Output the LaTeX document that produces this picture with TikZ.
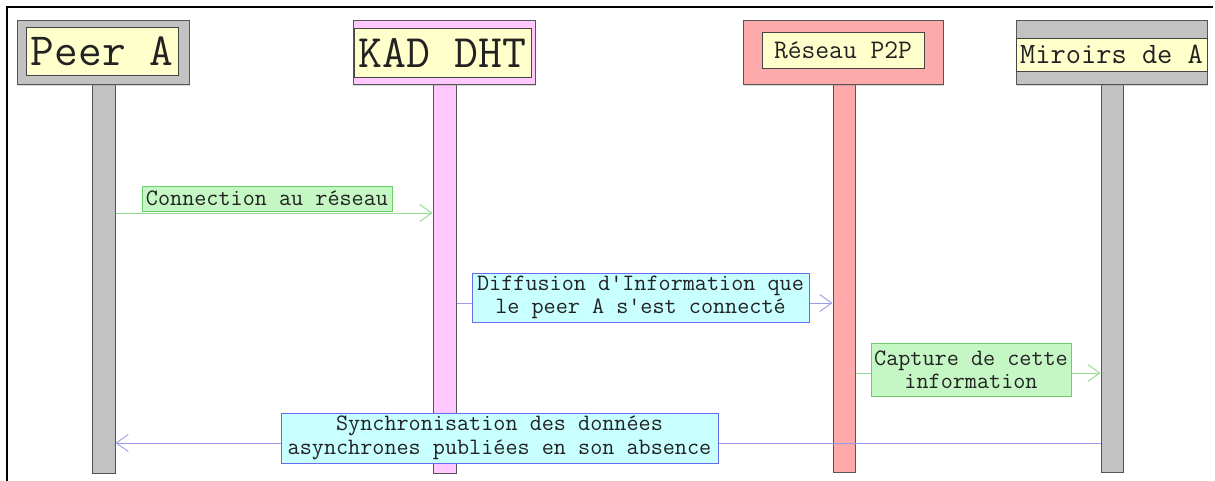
\documentclass[tikz,border=0pt]{standalone}
\usepackage{fontspec}
\usetikzlibrary{arrows.meta,shadows}

\definecolor{edgegray}{HTML}{555555}
\definecolor{textgray}{HTML}{222222}
\definecolor{actgray}{HTML}{C2C2C2}
\definecolor{actpink}{HTML}{FFC8FF}
\definecolor{actred}{HTML}{FFAAAA}
\definecolor{namefill}{HTML}{FFFFCC}
\definecolor{notegreen}{HTML}{C4F7C4}
\definecolor{notegreenedge}{HTML}{6ACF6A}
\definecolor{notecyan}{HTML}{C8FFFF}
\definecolor{notebluedge}{HTML}{6A6AEE}
\definecolor{linegreen}{HTML}{8FDC8F}
\definecolor{lineblue}{HTML}{9A9AEE}

\begin{document}
\begin{tikzpicture}[x=1pt,y=-1pt,
  header/.style={draw=edgegray, line width=1pt, inner sep=0pt,
    drop shadow={shadow xshift=1.2pt, shadow yshift=-1.2pt, opacity=0.3}},
  actorname/.style={draw=edgegray!80!black, line width=0.8pt, fill=namefill,
    inner sep=0pt, text=textgray, font=\ttfamily},
  lifeline/.style={draw=edgegray, line width=1pt, inner sep=0pt,
    minimum width=23pt, minimum height=388pt,
    drop shadow={shadow xshift=1.2pt, shadow yshift=-1.2pt, opacity=0.3}},
  msgfont/.style={font=\ttfamily\fontsize{23.5}{23.5}\selectfont, text=textgray, align=center, inner sep=0pt},
  greennote/.style={msgfont, fill=notegreen, draw=notegreenedge, line width=0.9pt},
  bluenote/.style={msgfont, fill=notecyan, draw=notebluedge, line width=0.9pt},
  greenmsg/.style={draw=linegreen, line width=0.9pt, -{Straight Barb[length=12pt,width=17pt]}},
  bluemsg/.style={draw=lineblue, line width=0.9pt, -{Straight Barb[length=12pt,width=17pt]}}
]
\useasboundingbox (0,0) rectangle (1215,481);

% screen frame
\draw[line width=2pt, black] (7,481) -- (7,7) -- (1213,7);

% lifelines
\node[lifeline, fill=actgray] (peerbar) at (103.5,279) {};
\node[lifeline, fill=actpink] (kadbar) at (444.5,279) {};
\node[lifeline, fill=actred, minimum width=22pt] (p2pbar) at (844,278) {};
\node[lifeline, fill=actgray, minimum width=22pt] (mirbar) at (1112,278) {};

% actor headers
\node[header, fill=actgray, minimum width=172pt, minimum height=64pt] (peerhead) at (103,53) {};
\node[actorname, minimum width=152pt, minimum height=48pt,
  font=\ttfamily\fontsize{46}{48}\selectfont] (peername) at (102,51) {Peer A};

\node[header, fill=actpink, minimum width=182pt, minimum height=64pt] (kadhead) at (444,53) {};
\node[actorname, minimum width=177pt, minimum height=49pt,
  font=\ttfamily\fontsize{46.5}{48}\selectfont] (kadname) at (442.5,52.5) {KAD DHT};

\node[header, fill=actred, minimum width=200pt, minimum height=64pt] (p2phead) at (843,53) {};
\node[actorname, minimum width=162pt, minimum height=36pt,
  font=\ttfamily\fontsize{26.8}{28}\selectfont] (p2pname) at (843,50) {Réseau P2P};

\node[header, fill=actgray, minimum width=191pt, minimum height=64pt] (mirhead) at (1111.5,53) {};
\node[actorname, minimum width=191pt, minimum height=33pt,
  font=\ttfamily\fontsize{29.6}{31}\selectfont] (mirname) at (1111.5,54.5) {Miroirs de A};

% message rows
\coordinate (row1) at (0,213);
\coordinate (row2) at (0,303);
\coordinate (row3) at (0,373);
\coordinate (row4) at (0,443);

\draw[greenmsg] (peerbar.east |- row1) -- (kadbar.west |- row1);
\draw[bluemsg] (kadbar.east |- row2) -- (p2pbar.west |- row2);
\draw[greenmsg] (p2pbar.east |- row3) -- (mirbar.west |- row3);
\draw[bluemsg] (mirbar.west |- row4) -- (peerbar.east |- row4);

% message notes
\node[greennote, minimum width=250pt, minimum height=25pt] (note1) at (267,198.5)
  {Connection au réseau};
\node[bluenote, minimum width=337pt, minimum height=49pt] (note2) at (640.5,297.5)
  {Diffusion d'Information que\\ le peer A s'est connecté};
\node[greennote, minimum width=200pt, minimum height=53pt] (note3) at (971,369.5)
  {Capture de cette\\ information};
\node[bluenote, minimum width=437pt, minimum height=50pt] (note4) at (499.5,438)
  {Synchronisation des données\\asynchrones publiées en son absence};
\end{tikzpicture}
\end{document}
